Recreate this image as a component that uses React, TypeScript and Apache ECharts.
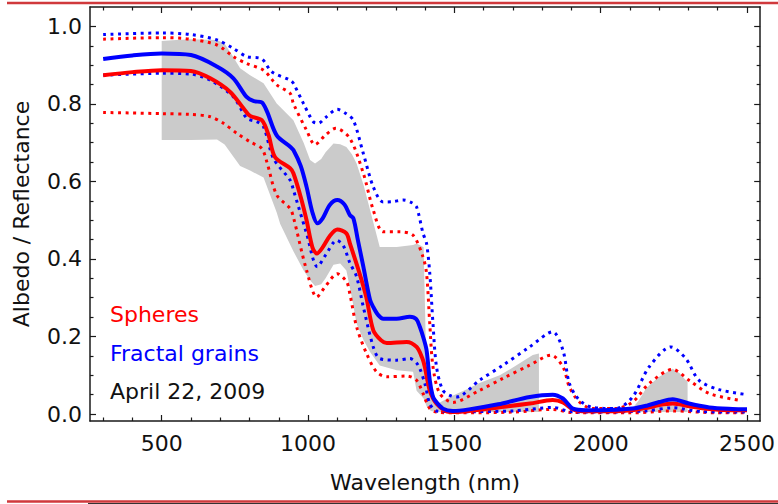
import React, { useEffect, useRef } from "react";
import * as echarts from "echarts";

// ---------- axis ticks ----------
const X_MAJOR = [500, 1000, 1500, 2000, 2500];
const X_MINOR = [300, 400, 600, 700, 800, 900, 1100, 1200, 1300, 1400, 1600, 1700, 1800, 1900, 2100, 2200, 2300, 2400];
const Y_MAJOR = [0, 0.2, 0.4, 0.6, 0.8, 1.0];
const Y_MINOR = [0.05, 0.1, 0.15, 0.25, 0.3, 0.35, 0.45, 0.5, 0.55, 0.65, 0.7, 0.75, 0.85, 0.9, 0.95];

// ---------- Fractal grains model (blue solid) ----------
const WL_FRACTAL = [300, 400, 500, 600, 690, 745, 790, 815, 842, 860, 893, 940, 950, 975, 995, 1015, 1032, 1050, 1075, 1100, 1125, 1143, 1155, 1170, 1189, 1212, 1223, 1240, 1257, 1303, 1348, 1370, 1382, 1395, 1405, 1416, 1425, 1433, 1461, 1495, 1550, 1650, 1758, 1836, 1871, 1905, 1950, 2000, 2109, 2160, 2200, 2246, 2302, 2371, 2450, 2500];
const FRACTAL = [0.916, 0.925, 0.930, 0.926, 0.896, 0.866, 0.818, 0.807, 0.804, 0.78, 0.719, 0.689, 0.681, 0.64, 0.586, 0.52, 0.492, 0.505, 0.54, 0.552, 0.54, 0.513, 0.505, 0.45, 0.38, 0.294, 0.276, 0.255, 0.246, 0.246, 0.251, 0.245, 0.225, 0.195, 0.165, 0.087, 0.05, 0.036, 0.014, 0.008, 0.012, 0.025, 0.044, 0.05, 0.04, 0.014, 0.01, 0.01, 0.014, 0.022, 0.031, 0.038, 0.027, 0.017, 0.013, 0.012];

// ---------- Spheres model (red solid) ----------
const WL_SPHERES = [300, 400, 500, 600, 666, 734, 780, 802, 842, 865, 887, 939, 950, 975, 995, 1015, 1030, 1050, 1075, 1100, 1131, 1143, 1176, 1199, 1223, 1250, 1269, 1337, 1371, 1390, 1399, 1416, 1439, 1484, 1550, 1650, 1758, 1836, 1871, 1905, 1950, 2000, 2109, 2160, 2200, 2246, 2302, 2371, 2450, 2500];
const SPHERES = [0.874, 0.882, 0.887, 0.885, 0.866, 0.831, 0.788, 0.769, 0.758, 0.72, 0.663, 0.634, 0.621, 0.56, 0.5, 0.43, 0.414, 0.43, 0.46, 0.476, 0.466, 0.44, 0.363, 0.302, 0.216, 0.19, 0.183, 0.186, 0.173, 0.145, 0.122, 0.061, 0.027, 0.005, 0.008, 0.017, 0.027, 0.036, 0.03, 0.012, 0.007, 0.007, 0.01, 0.016, 0.023, 0.027, 0.02, 0.013, 0.01, 0.01];

// ---------- Fractal grains upper / lower (blue dotted) ----------
const WL_FRACTAL_HI = [300, 500, 598, 689, 745, 791, 842, 876, 939, 950, 985, 1018, 1035, 1060, 1100, 1130, 1155, 1189, 1223, 1257, 1290, 1325, 1355, 1371, 1393, 1405, 1416, 1427, 1439, 1461, 1490, 1507, 1586, 1666, 1757, 1836, 1871, 1893, 1927, 1973, 2052, 2109, 2166, 2240, 2291, 2336, 2405, 2501];
const FRACTAL_HI = [0.979, 0.983, 0.979, 0.965, 0.943, 0.922, 0.916, 0.883, 0.861, 0.853, 0.8, 0.754, 0.75, 0.765, 0.786, 0.775, 0.758, 0.672, 0.586, 0.547, 0.548, 0.552, 0.545, 0.534, 0.466, 0.44, 0.363, 0.233, 0.122, 0.061, 0.046, 0.044, 0.087, 0.126, 0.173, 0.212, 0.165, 0.079, 0.036, 0.017, 0.014, 0.044, 0.122, 0.173, 0.143, 0.087, 0.063, 0.05];
const WL_FRACTAL_LO = [300, 500, 598, 666, 745, 791, 825, 848, 882, 939, 950, 995, 1032, 1060, 1098, 1120, 1143, 1166, 1189, 1223, 1245, 1303, 1348, 1376, 1399, 1416, 1439, 1500, 1700, 1836, 1900, 2000, 2150, 2246, 2350, 2500];
const FRACTAL_LO = [0.874, 0.879, 0.877, 0.861, 0.818, 0.763, 0.754, 0.741, 0.659, 0.603, 0.578, 0.466, 0.38, 0.41, 0.448, 0.435, 0.39, 0.354, 0.276, 0.173, 0.143, 0.139, 0.143, 0.126, 0.079, 0.027, 0.008, 0.006, 0.008, 0.017, 0.006, 0.005, 0.008, 0.016, 0.006, 0.005];

// ---------- Spheres upper / lower (red dotted) ----------
const WL_SPHERES_HI = [300, 500, 598, 689, 745, 791, 848, 893, 939, 950, 995, 1024, 1060, 1095, 1143, 1189, 1223, 1257, 1314, 1359, 1393, 1405, 1416, 1427, 1450, 1495, 1586, 1666, 1757, 1831, 1871, 1893, 1927, 1973, 2052, 2109, 2166, 2246, 2302, 2371, 2484];
const SPHERES_HI = [0.967, 0.971, 0.967, 0.952, 0.922, 0.904, 0.887, 0.849, 0.827, 0.801, 0.732, 0.695, 0.72, 0.737, 0.711, 0.621, 0.526, 0.47, 0.47, 0.461, 0.405, 0.363, 0.233, 0.122, 0.053, 0.03, 0.061, 0.092, 0.126, 0.152, 0.122, 0.07, 0.031, 0.014, 0.014, 0.031, 0.079, 0.115, 0.087, 0.053, 0.034];
const WL_SPHERES_LO = [300, 500, 598, 666, 711, 757, 802, 842, 859, 893, 939, 950, 995, 1030, 1060, 1100, 1132, 1143, 1166, 1200, 1234, 1269, 1337, 1371, 1393, 1416, 1439, 1500, 1700, 1836, 1900, 2100, 2246, 2400, 2500];
const SPHERES_LO = [0.778, 0.775, 0.773, 0.767, 0.75, 0.724, 0.702, 0.685, 0.651, 0.565, 0.53, 0.508, 0.371, 0.302, 0.33, 0.362, 0.341, 0.31, 0.225, 0.156, 0.109, 0.096, 0.098, 0.087, 0.053, 0.014, 0.005, 0.003, 0.005, 0.012, 0.004, 0.003, 0.008, 0.003, 0.003];

// ---------- Observed range (gray band) ----------
const BAND1_WL = [500, 550, 598, 689, 715, 734, 768, 802, 848, 893, 905, 950, 985, 1007, 1024, 1045, 1060, 1087, 1110, 1131, 1150, 1166, 1190, 1212, 1245, 1303, 1359, 1371, 1395, 1405, 1420, 1440, 1484, 1541, 1586, 1655, 1700, 1768, 1789];
const BAND1_HI = [0.962, 0.965, 0.967, 0.965, 0.955, 0.934, 0.892, 0.874, 0.853, 0.801, 0.792, 0.758, 0.7, 0.655, 0.646, 0.658, 0.675, 0.698, 0.696, 0.689, 0.67, 0.646, 0.59, 0.526, 0.431, 0.431, 0.436, 0.44, 0.43, 0.1, 0.04, 0.025, 0.044, 0.063, 0.08, 0.1, 0.12, 0.152, 0.156];
const BAND1_LO = [0.707, 0.707, 0.707, 0.708, 0.695, 0.675, 0.64, 0.628, 0.61, 0.52, 0.49, 0.42, 0.37, 0.345, 0.33, 0.335, 0.35, 0.385, 0.388, 0.37, 0.3, 0.233, 0.19, 0.16, 0.125, 0.113, 0.109, 0.06, 0.04, 0.02, 0.008, 0.005, 0.005, 0.005, 0.005, 0.005, 0.005, 0.005, 0.005];
const BAND2_WL = [2103, 2130, 2155, 2180, 2200, 2225, 2246, 2270, 2291, 2297];
const BAND2_HI = [0.01, 0.035, 0.066, 0.083, 0.096, 0.108, 0.117, 0.105, 0.087, 0.085];
const BAND2_LO = [0.005, 0.005, 0.005, 0.005, 0.005, 0.005, 0.005, 0.005, 0.005, 0.005];

const X_MIN = 255;
const X_MAX = 2545;
const Y_MIN = -0.018;
const Y_MAX = 1.05;

const FONT = "DejaVu Sans";
const FRAME = "#1a1a1a";
const BLUE = "#0000ff";
const RED = "#ff0000";
const GRAY = "#cbcbcb";

const zip = (x: number[], y: number[]) => x.map((v, i) => [v, y[i]]);

const bands = [
  { wl: BAND1_WL, hi: BAND1_HI, lo: BAND1_LO },
  { wl: BAND2_WL, hi: BAND2_HI, lo: BAND2_LO },
];

function xAxisDef(position: "bottom" | "top", ticks: number[], major: boolean, withLabel: boolean) {
  return {
    type: "value",
    min: X_MIN,
    max: X_MAX,
    position,
    axisLine: { show: major, onZero: false, lineStyle: { color: FRAME, width: 1.5 } },
    axisTick: { show: true, inside: true, length: major ? 6 : 3.5, customValues: ticks, lineStyle: { color: FRAME, width: 1.2 } },
    axisLabel: withLabel
      ? { show: true, customValues: ticks, margin: 11, fontFamily: FONT, fontSize: 22, color: "#111", formatter: (v: number) => String(v) }
      : { show: false },
    splitLine: { show: false },
    ...(withLabel
      ? {
          name: "Wavelength (nm)",
          nameLocation: "middle",
          nameGap: 50,
          nameTextStyle: { fontFamily: FONT, fontSize: 22, color: "#111" },
        }
      : {}),
  };
}

function yAxisDef(position: "left" | "right", ticks: number[], major: boolean, withLabel: boolean) {
  return {
    type: "value",
    min: Y_MIN,
    max: Y_MAX,
    position,
    axisLine: { show: major, onZero: false, lineStyle: { color: FRAME, width: 1.5 } },
    axisTick: { show: true, inside: true, length: major ? 6 : 3.5, customValues: ticks, lineStyle: { color: FRAME, width: 1.2 } },
    axisLabel: withLabel
      ? { show: true, customValues: ticks, margin: 8, fontFamily: FONT, fontSize: 22, color: "#111", formatter: (v: number) => v.toFixed(1) }
      : { show: false },
    splitLine: { show: false },
    ...(withLabel
      ? {
          name: "Albedo / Reflectance",
          nameLocation: "middle",
          nameGap: 58,
          nameRotate: 90,
          nameTextStyle: { fontFamily: FONT, fontSize: 22, color: "#111" },
        }
      : {}),
  };
}

function lineSeries(name: string, wl: number[], vals: number[], color: string, dotted: boolean, z: number) {
  return {
    name,
    type: "line",
    data: zip(wl, vals),
    xAxisIndex: 0,
    yAxisIndex: 0,
    showSymbol: false,
    symbol: "none",
    smooth: 0.3,
    z,
    lineStyle: dotted
      ? { color, width: 3, type: [3, 4.5], cap: "butt" }
      : { color, width: 4 },
    silent: true,
  };
}

export default function App() {
  const ref = useRef<HTMLDivElement>(null);
  useEffect(() => {
    const chart = echarts.init(ref.current!, null, { renderer: "svg" });
    const option: any = {
      animation: false,
      backgroundColor: "#ffffff",
      grid: { left: 90, right: 17, top: 7, bottom: 83, containLabel: false },
      xAxis: [
        xAxisDef("bottom", X_MAJOR, true, true),
        xAxisDef("bottom", X_MINOR, false, false),
        xAxisDef("top", X_MAJOR, true, false),
        xAxisDef("top", X_MINOR, false, false),
      ],
      yAxis: [
        yAxisDef("left", Y_MAJOR, true, true),
        yAxisDef("left", Y_MINOR, false, false),
        yAxisDef("right", Y_MAJOR, true, false),
        yAxisDef("right", Y_MINOR, false, false),
      ],
      series: [
        {
          name: "Observed range",
          type: "custom",
          xAxisIndex: 0,
          yAxisIndex: 0,
          silent: true,
          z: 1,
          clip: true,
          data: bands.map((b) => [b.wl[0], b.lo[0]]),
          renderItem: (params: any, api: any) => {
            const b = bands[params.dataIndex];
            const pts: number[][] = [];
            for (let i = 0; i < b.wl.length; i++) pts.push(api.coord([b.wl[i], b.hi[i]]));
            for (let i = b.wl.length - 1; i >= 0; i--) pts.push(api.coord([b.wl[i], b.lo[i]]));
            return { type: "polygon", shape: { points: pts }, style: { fill: GRAY, stroke: null } };
          },
        },
        lineSeries("Spheres lower", WL_SPHERES_LO, SPHERES_LO, RED, true, 2),
        lineSeries("Spheres upper", WL_SPHERES_HI, SPHERES_HI, RED, true, 2),
        lineSeries("Fractal lower", WL_FRACTAL_LO, FRACTAL_LO, BLUE, true, 2),
        lineSeries("Fractal upper", WL_FRACTAL_HI, FRACTAL_HI, BLUE, true, 2),
        lineSeries("Spheres", WL_SPHERES, SPHERES, RED, false, 3),
        lineSeries("Fractal grains", WL_FRACTAL, FRACTAL, BLUE, false, 4),
      ],
      graphic: [
        { type: "line", silent: true, shape: { x1: 7, y1: 3, x2: 778, y2: 3 }, style: { stroke: "#d0393c", lineWidth: 2.5 } },
        { type: "line", silent: true, shape: { x1: 7, y1: 501.5, x2: 778, y2: 501.5 }, style: { stroke: "#d0393c", lineWidth: 2.5 } },
        { type: "line", silent: true, shape: { x1: 88, y1: 503.5, x2: 778, y2: 503.5 }, style: { stroke: "#333", lineWidth: 1 } },
        { type: "text", left: 110, top: 303, silent: true, style: { text: "Spheres", fill: RED, font: `22px "${FONT}"` } },
        { type: "text", left: 110, top: 342, silent: true, style: { text: "Fractal grains", fill: BLUE, font: `22px "${FONT}"` } },
        { type: "text", left: 110, top: 380, silent: true, style: { text: "April 22, 2009", fill: "#111", font: `22px "${FONT}"` } },
      ],
    };
    chart.setOption(option);
    return () => chart.dispose();
  }, []);
  return (
    <div
      ref={ref}
      style={{ position: "fixed", left: 0, top: 0, width: 778, height: 504, background: "#fff" }}
    />
  );
}
